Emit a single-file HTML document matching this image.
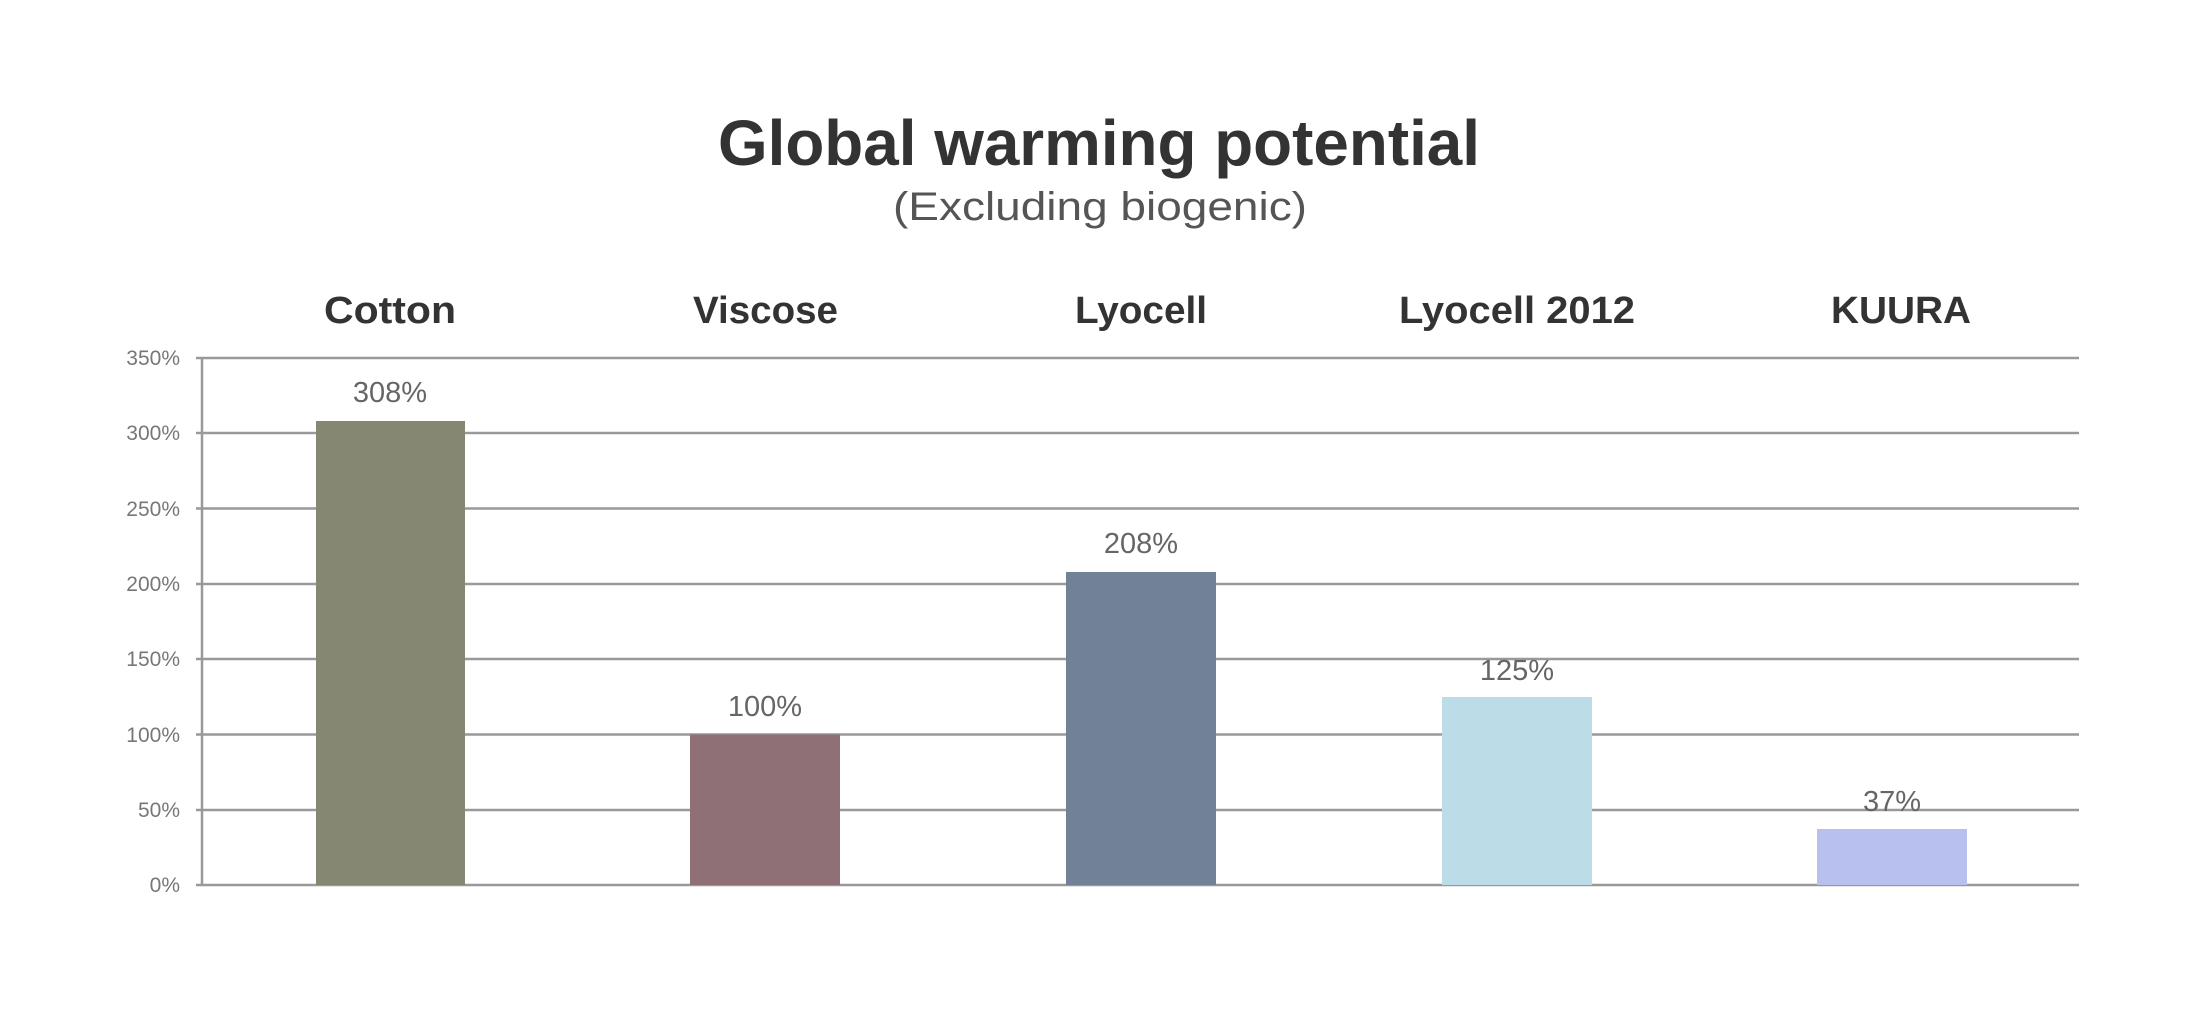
<!DOCTYPE html>
<html><head><meta charset="utf-8"><style>
html,body{margin:0;padding:0;background:#fff;}
svg{display:block;}
text{font-family:"Liberation Sans",sans-serif;}
</style></head><body>
<svg width="2200" height="1022" viewBox="0 0 2200 1022" xmlns="http://www.w3.org/2000/svg">
<rect width="2200" height="1022" fill="#fff"/>
<text x="718" y="165" font-size="64" font-weight="bold" fill="#333" textLength="762" lengthAdjust="spacingAndGlyphs">Global warming potential</text>
<text x="893" y="220" font-size="40" fill="#555" textLength="414" lengthAdjust="spacingAndGlyphs">(Excluding biogenic)</text>
<g font-size="38" font-weight="bold" fill="#333">
<text x="324" y="323" textLength="132" lengthAdjust="spacingAndGlyphs">Cotton</text>
<text x="693" y="323" textLength="145" lengthAdjust="spacingAndGlyphs">Viscose</text>
<text x="1075" y="323" textLength="132" lengthAdjust="spacingAndGlyphs">Lyocell</text>
<text x="1399" y="323" textLength="236" lengthAdjust="spacingAndGlyphs">Lyocell 2012</text>
<text x="1831" y="323" textLength="140" lengthAdjust="spacingAndGlyphs">KUURA</text>
</g>
<g stroke="#999" stroke-width="2.5">
<line x1="196" y1="358" x2="2079" y2="358"/>
<line x1="196" y1="433" x2="2079" y2="433"/>
<line x1="196" y1="508.5" x2="2079" y2="508.5"/>
<line x1="196" y1="584" x2="2079" y2="584"/>
<line x1="196" y1="659" x2="2079" y2="659"/>
<line x1="196" y1="734.5" x2="2079" y2="734.5"/>
<line x1="196" y1="810" x2="2079" y2="810"/>
<line x1="196" y1="885" x2="2079" y2="885"/>
<line x1="202" y1="358" x2="202" y2="885"/>
</g>
<g font-size="21" fill="#777" text-anchor="end">
<text x="180" y="365">350%</text>
<text x="180" y="440">300%</text>
<text x="180" y="516">250%</text>
<text x="180" y="591">200%</text>
<text x="180" y="666">150%</text>
<text x="180" y="742">100%</text>
<text x="180" y="817">50%</text>
<text x="180" y="892">0%</text>
</g>
<rect x="316" y="421" width="149" height="464" fill="#868773"/>
<rect x="690" y="734.5" width="150" height="150.5" fill="#8f7077"/>
<rect x="1066" y="572" width="150" height="313" fill="#718296"/>
<rect x="1442" y="697" width="150" height="188" fill="#bcdce8"/>
<rect x="1817" y="829" width="150" height="56" fill="#b8c0f0"/>
<g font-size="29" fill="#666" text-anchor="middle">
<text x="390" y="402">308%</text>
<text x="765" y="716">100%</text>
<text x="1141" y="553">208%</text>
<text x="1517" y="680">125%</text>
<text x="1892" y="811">37%</text>
</g>
</svg>
</body></html>
